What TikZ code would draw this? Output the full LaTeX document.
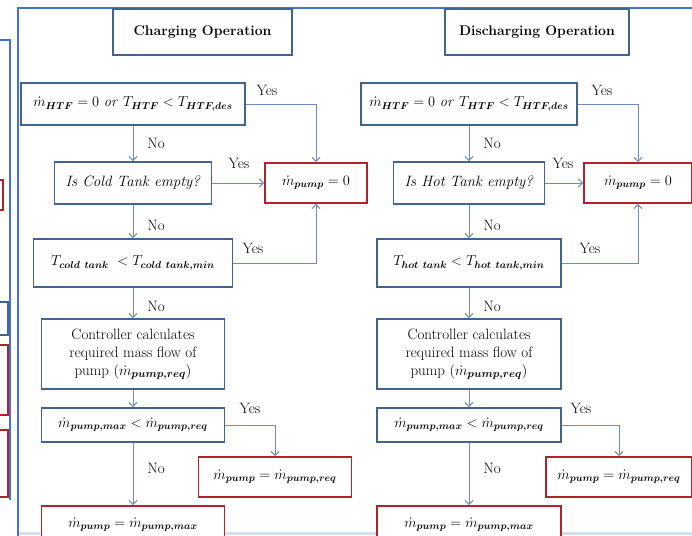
\documentclass[tikz,border=0pt]{standalone}
\usepackage{bm}
\usetikzlibrary{arrows.meta}

\definecolor{frameblue}{HTML}{4472C4}
\definecolor{boxblue}{HTML}{41648F}
\definecolor{boxred}{HTML}{B0222C}
\definecolor{linkblue}{HTML}{6C8EBF}
\definecolor{bandblue}{HTML}{D5E0EF}

\tikzset{
  flowbox/.style={draw=boxblue, line width=1.8pt, fill=white, inner sep=0pt, align=center,
    font=\fontsize{14}{17.5}\selectfont},
  endbox/.style={flowbox, draw=boxred},
  titlebox/.style={flowbox, font=\fontsize{14}{17}\selectfont\bfseries},
  textbox/.style={flowbox, font=\fontsize{15}{18}\selectfont},
  link/.style={draw=linkblue, line width=1pt, -{Straight Barb[length=4pt,width=8pt]}},
  answer/.style={inner sep=0pt, font=\fontsize{15}{17}\selectfont}
}

\begin{document}
\begin{tikzpicture}[x=1pt, y=-1pt]
        \path[use as bounding box, clip] (0,0) rectangle (692,535);

        % pieces of the neighbouring figure and the frame
        \draw[frameblue, line width=1.2pt] (-5,40) -- (10,40) -- (10,500);
        \draw[boxred, line width=1.5pt] (-10,180) rectangle (3,210);
        \draw[boxblue, line width=1.5pt] (-10,302) rectangle (8,335);
        \draw[boxred, line width=1.5pt] (-10,345) rectangle (8,415);
        \draw[boxred, line width=1.5pt] (-10,430) rectangle (8,497);
        \draw[bandblue, line width=3pt] (18,533) -- (700,533);
        \draw[frameblue, line width=1.5pt] (18,540) -- (18,8) -- (700,8);

        % charging
        \node[titlebox, minimum width=179pt, minimum height=46pt] (chg) at (202.5,32) {Charging Operation};
        \node[flowbox, minimum width=224pt, minimum height=42pt] (c1) at (133,104) {$\dot{m}_{\bm{HTF}} = 0\ \mathit{or}\ T_{\bm{HTF}} < T_{\bm{HTF,des}}$};
        \node[textbox, minimum width=157pt, minimum height=42pt] (c2) at (133,183) {\textit{Is Cold Tank empty?}};
        \node[endbox, minimum width=102pt, minimum height=40pt] (p0) at (316,183) {$\dot{m}_{\bm{pump}} = 0$};
        \node[flowbox, minimum width=199pt, minimum height=48pt] (c3) at (133,263) {$T_{\bm{cold\ tank}}\ < T_{\bm{cold\ tank,min}}$};
        \node[textbox, minimum width=183pt, minimum height=70pt] (c4) at (133,354) {Controller calculates\\required mass flow of\\pump $\left(\dot{m}_{\bm{pump,req}}\right)$};
        \node[flowbox, minimum width=183pt, minimum height=34pt] (c5) at (133,425) {$\dot{m}_{\bm{pump,max}} < \dot{m}_{\bm{pump,req}}$};
        \node[endbox, minimum width=153pt, minimum height=40pt] (c6) at (275,477) {$\dot{m}_{\bm{pump}} = \dot{m}_{\bm{pump,req}}$};
        \node[endbox, minimum width=183pt, minimum height=38pt] (c7) at (133,525) {$\dot{m}_{\bm{pump}} = \dot{m}_{\bm{pump,max}}$};

        \draw[link] (c1.south) -- (c2.north);
        \draw[link] (c2.south) -- (c3.north);
        \draw[link] (c3.south) -- (c4.north);
        \draw[link] (c4.south) -- (c5.north);
        \draw[link] (c5.south) -- (c7.north);
        \draw[link] (c1.east) -| (p0.north);
        \draw[link] (c2.east) -- (p0.west);
        \draw[link] (c3.east) -| (p0.south);
        \draw[link] (c5.east) -| (c6.north);

        \node[answer] (cy1) at (267,90) {Yes};
        \node[answer] (cn1) at (156,143) {No};
        \node[answer] (cy2) at (239,163) {Yes};
        \node[answer] (cn2) at (156,225) {No};
        \node[answer] (cy3) at (253,248) {Yes};
        \node[answer] (cn3) at (156,306) {No};
        \node[answer] (cy4) at (250,408) {Yes};
        \node[answer] (cn4) at (156,468) {No};

        % discharging
        \node[titlebox, minimum width=184pt, minimum height=46pt] (dis) at (537,32) {Discharging Operation};
        \node[flowbox, minimum width=216pt, minimum height=42pt] (d1) at (469,104) {$\dot{m}_{\bm{HTF}} = 0\ \mathit{or}\ T_{\bm{HTF}} < T_{\bm{HTF,des}}$};
        \node[textbox, minimum width=151pt, minimum height=42pt] (d2) at (469,183) {\textit{Is Hot Tank empty?}};
        \node[endbox, minimum width=108pt, minimum height=40pt] (q0) at (638,183) {$\dot{m}_{\bm{pump}} = 0$};
        \node[flowbox, minimum width=184pt, minimum height=48pt] (d3) at (469,263) {$T_{\bm{hot\ tank}} < T_{\bm{hot\ tank,min}}$};
        \node[textbox, minimum width=184pt, minimum height=70pt] (d4) at (469,354) {Controller calculates\\required mass flow of\\pump $\left(\dot{m}_{\bm{pump,req}}\right)$};
        \node[flowbox, minimum width=184pt, minimum height=34pt] (d5) at (469,425) {$\dot{m}_{\bm{pump,max}} < \dot{m}_{\bm{pump,req}}$};
        \node[endbox, minimum width=146pt, minimum height=40pt] (d6) at (619,477) {$\dot{m}_{\bm{pump}} = \dot{m}_{\bm{pump,req}}$};
        \node[endbox, minimum width=184pt, minimum height=38pt] (d7) at (469,525) {$\dot{m}_{\bm{pump}} = \dot{m}_{\bm{pump,max}}$};

        \draw[link] (d1.south) -- (d2.north);
        \draw[link] (d2.south) -- (d3.north);
        \draw[link] (d3.south) -- (d4.north);
        \draw[link] (d4.south) -- (d5.north);
        \draw[link] (d5.south) -- (d7.north);
        \draw[link] (d1.east) -| (q0.north);
        \draw[link] (d2.east) -- (q0.west);
        \draw[link] (d3.east) -| (q0.south);
        \draw[link] (d5.east) -| (d6.north);

        \node[answer] (dy1) at (602,90) {Yes};
        \node[answer] (dn1) at (492,143) {No};
        \node[answer] (dy2) at (563,163) {Yes};
        \node[answer] (dn2) at (492,225) {No};
        \node[answer] (dy3) at (590,248) {Yes};
        \node[answer] (dn3) at (492,306) {No};
        \node[answer] (dy4) at (581,408) {Yes};
        \node[answer] (dn4) at (492,468) {No};
    \end{tikzpicture}
\end{document}
